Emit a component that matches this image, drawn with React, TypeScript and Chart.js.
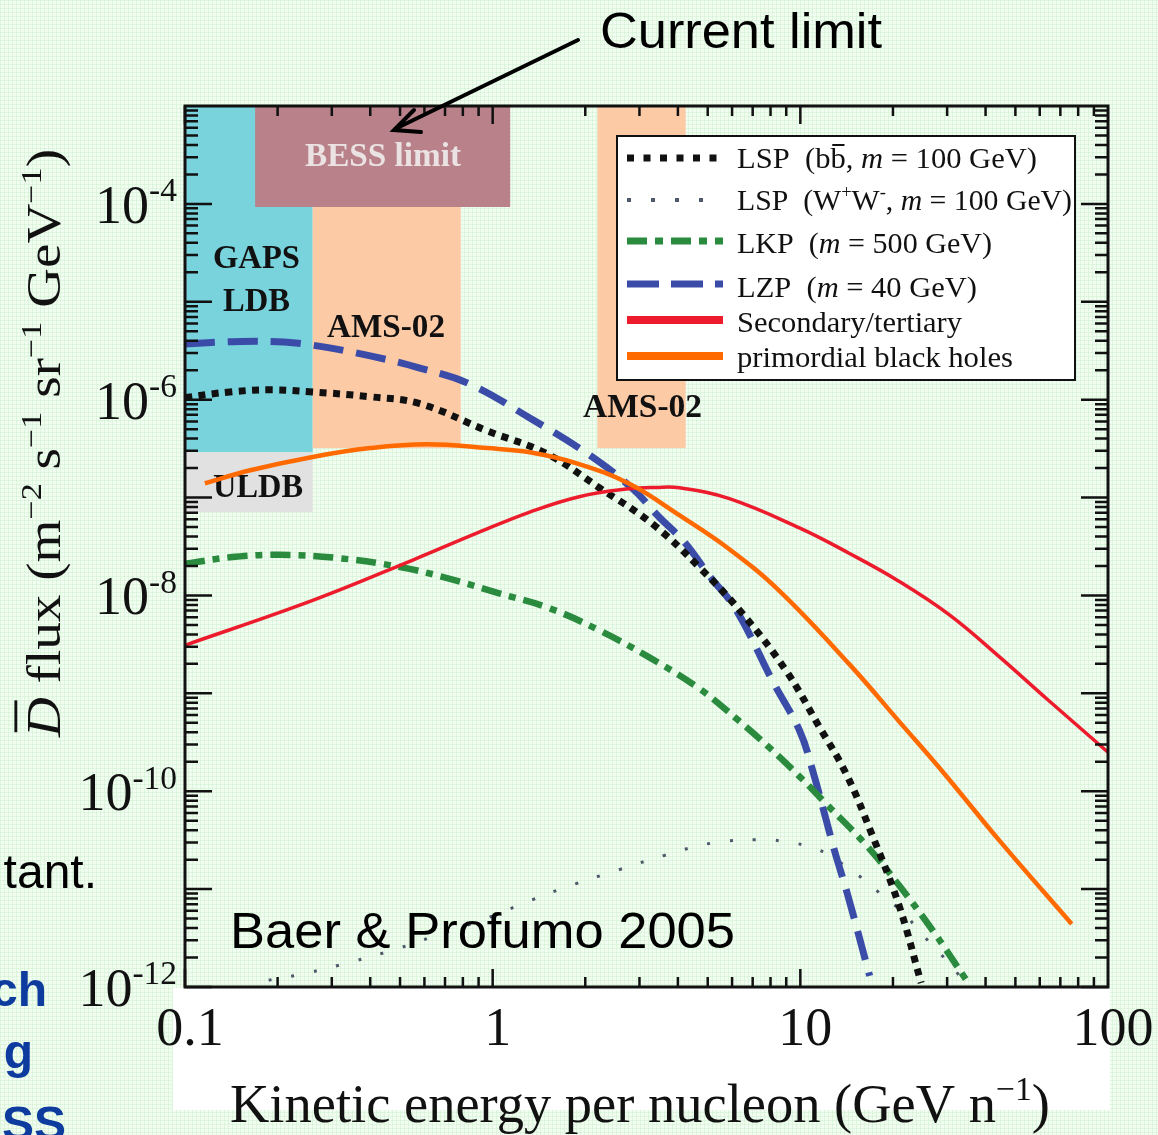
import React, { useEffect, useRef } from "react";
import { Chart, registerables } from "chart.js";

Chart.register(...registerables);

const W = 1158;
const H = 1135;
const SERIF = '"Liberation Serif", "Times New Roman", serif';
const SANS = '"Liberation Sans", Arial, sans-serif';

// ---------- series data (kinetic energy per nucleon in GeV, flux) ----------
const lspBbX = [0.1, 0.14, 0.19, 0.26, 0.4, 0.58, 0.96, 1.5, 2.22, 3.3, 4.69, 6.46, 8.97, 11.5, 14.1, 17.1, 20.9, 24.7];
const lspBbY = [1.05e-6, 1.2e-6, 1.26e-6, 1.2e-6, 1.07e-6, 9.1e-7, 4.8e-7, 2.8e-7, 1.26e-7, 5.4e-8, 1.95e-8, 6.6e-9, 1.72e-9, 4.6e-10, 1.5e-10, 3.6e-11, 6.9e-12, 1.1e-12];

const lspWwX = [0.16, 0.172, 0.247, 0.346, 0.488, 0.68, 0.95, 1.32, 1.84, 2.58, 3.6, 5.14, 7.3, 8.7, 10.3, 12.2, 14.2, 16.4, 18.7, 21.6, 24.2, 27.4, 30.9, 34.3];
const lspWwY = [9.5e-13, 1.1e-12, 1.38e-12, 1.8e-12, 2.45e-12, 3.5e-12, 5.0e-12, 7.6e-12, 1.12e-11, 1.58e-11, 2.2e-11, 2.95e-11, 3.2e-11, 3.1e-11, 2.8e-11, 2.3e-11, 1.66e-11, 1.2e-11, 8.3e-12, 5.8e-12, 3.8e-12, 2.5e-12, 1.66e-12, 1.1e-12];

const lkpX = [0.1, 0.14, 0.203, 0.318, 0.5, 0.726, 1.05, 1.53, 2.22, 3.23, 4.69, 6.29, 7.92, 9.93, 12.1, 16.4, 20.9, 26.9, 34.5];
const lkpY = [2.1e-8, 2.45e-8, 2.6e-8, 2.4e-8, 1.95e-8, 1.48e-8, 1.05e-8, 7.4e-9, 4.4e-9, 2.33e-9, 1.12e-9, 5.3e-10, 2.8e-10, 1.42e-10, 7.5e-11, 2.8e-11, 1.1e-11, 3.8e-12, 1.2e-12];

const lzpX = [0.1, 0.14, 0.2, 0.26, 0.4, 0.58, 0.84, 1.32, 2.07, 2.85, 3.48, 4.2, 5.07, 6.19, 8.11, 9.93, 10.9, 12.9, 14.2, 16.8];
const lzpY = [3.7e-6, 3.9e-6, 3.9e-6, 3.6e-6, 2.8e-6, 2.1e-6, 1.45e-6, 6.5e-7, 2.7e-7, 1.23e-7, 6.3e-8, 3.5e-8, 1.58e-8, 7.1e-9, 1.35e-9, 4.2e-10, 1.74e-10, 2.5e-11, 9.1e-12, 1.3e-12];

const secondaryX = [0.1, 0.26, 0.55, 0.9, 1.32, 1.91, 2.78, 3.4, 4.04, 5.85, 9.93, 14.4, 20.9, 30.6, 44.1, 64, 100];
const secondaryY = [3.1e-9, 8.9e-9, 2.3e-8, 4.4e-8, 7.1e-8, 1.02e-7, 1.23e-7, 1.27e-7, 1.26e-7, 9.8e-8, 4.9e-8, 2.7e-8, 1.4e-8, 6.3e-9, 2.4e-9, 8.5e-10, 2.5e-10];

const pbhX = [0.116, 0.163, 0.26, 0.4, 0.61, 0.96, 1.32, 1.91, 2.78, 4.04, 5.85, 8.53, 14.4, 20.9, 29.7, 44.1, 76.2];
const pbhY = [1.4e-7, 1.9e-7, 2.6e-7, 3.2e-7, 3.5e-7, 3.2e-7, 2.9e-7, 2.2e-7, 1.38e-7, 6.6e-8, 3.0e-8, 1.12e-8, 2.0e-9, 5.2e-10, 1.45e-10, 3.2e-11, 4.4e-12];

// ---------- axes ----------
const xMin = 0.1;
const xMax = 100;
const yMin = 1e-12;
const yMax = 1e-3;
const xTickValues = [0.1, 1, 10, 100];
const xTickLabels = ["0.1", "1", "10", "100"];
const yTickExponents = [-4, -6, -8, -10, -12];

// ---------- experiment sensitivity bands ----------
const bandNames = ["GAPS LDB", "AMS-02", "BESS limit", "AMS-02", "ULDB"];
const bandXMin = [0.1, 0.26, 0.169, 2.19, 0.1];
const bandXMax = [0.26, 0.787, 1.14, 4.24, 0.26];
const bandYMin = [2.9e-7, 3.2e-7, 9.3e-5, 3.2e-7, 7.1e-8];
const bandYMax = [1e-3, 9.3e-5, 1e-3, 1e-3, 2.9e-7];
const bandColors = ["#79d3dd", "#fdcaa6", "#b98189", "#fdcaa6", "#e1e1e1"];

type Seg = { t: string; it?: boolean; sup?: boolean; over?: number; bold?: boolean };

const legendSegs: Seg[][] = [
  [{ t: "LSP  (b" }, { t: "b", over: 0.8 }, { t: ", " }, { t: "m", it: true }, { t: " = 100 GeV)" }],
  [{ t: "LSP  (W" }, { t: "+", sup: true }, { t: "W" }, { t: "-", sup: true }, { t: ", " }, { t: "m", it: true }, { t: " = 100 GeV)" }],
  [{ t: "LKP  (" }, { t: "m", it: true }, { t: " = 500 GeV)" }],
  [{ t: "LZP  (" }, { t: "m", it: true }, { t: " = 40 GeV)" }],
  [{ t: "Secondary/tertiary" }],
  [{ t: "primordial black holes" }],
];

// style per legend row (same order as legendSegs)
const legendStyle = [
  { color: "#111111", width: 7, dash: [7, 9.5] },
  { color: "#4d5868", width: 4, dash: [4, 20] },
  { color: "#2a8a3e", width: 7, dash: [20, 8, 8, 8] },
  { color: "#3b4ca8", width: 7, dash: [32, 12] },
  { color: "#ec1c2c", width: 8, dash: [] as number[] },
  { color: "#ff6a00", width: 8, dash: [] as number[] },
];

function segFont(s: Seg, size: number, family: string) {
  const sz = s.sup ? size * 0.62 : size;
  return `${s.it ? "italic " : ""}${s.bold ? "bold " : ""}${sz}px ${family}`;
}

function richWidth(ctx: CanvasRenderingContext2D, segs: Seg[], size: number, family: string) {
  let w = 0;
  for (const s of segs) {
    ctx.font = segFont(s, size, family);
    w += ctx.measureText(s.t).width;
  }
  return w;
}

function drawRich(
  ctx: CanvasRenderingContext2D,
  segs: Seg[],
  x: number,
  y: number,
  size: number,
  family: string,
  align: "left" | "center" | "right",
  target?: number
) {
  const w = richWidth(ctx, segs, size, family);
  const sx = target ? target / w : 1;
  const tw = w * sx;
  const start = align === "left" ? x : align === "center" ? x - tw / 2 : x - tw;
  ctx.save();
  ctx.translate(start, y);
  ctx.scale(sx, 1);
  ctx.textAlign = "left";
  ctx.textBaseline = "alphabetic";
  let cx = 0;
  for (const s of segs) {
    ctx.font = segFont(s, size, family);
    const dy = s.sup ? -size * 0.4 : 0;
    ctx.fillText(s.t, cx, dy);
    const mw = ctx.measureText(s.t).width;
    if (s.over) {
      ctx.fillRect(cx + mw * 0.12, dy - size * s.over, mw * 0.8, Math.max(2, size * 0.06));
    }
    cx += mw;
  }
  ctx.restore();
}

function fitText(ctx: CanvasRenderingContext2D, text: string, x: number, y: number, font: string, target: number, color: string) {
  ctx.save();
  ctx.font = font;
  const w = ctx.measureText(text).width;
  ctx.translate(x, y);
  ctx.scale(target / w, 1);
  ctx.fillStyle = color;
  ctx.textAlign = "left";
  ctx.textBaseline = "alphabetic";
  ctx.fillText(text, 0, 0);
  ctx.restore();
}

const decorPlugin = {
  id: "decor",
  beforeDraw(chart: any) {
    const ctx: CanvasRenderingContext2D = chart.ctx;
    ctx.save();
    ctx.fillStyle = "#ffffff";
    ctx.fillRect(173, 988, 937, 122);
    ctx.restore();
  },
  beforeDatasetsDraw(chart: any) {
    const ctx: CanvasRenderingContext2D = chart.ctx;
    const a = chart.chartArea;
    const xs = chart.scales.x;
    const ys = chart.scales.y;
    ctx.save();
    ctx.beginPath();
    ctx.rect(a.left, a.top, a.right - a.left, a.bottom - a.top);
    ctx.clip();
    for (let i = 0; i < bandNames.length; i++) {
      const x0 = xs.getPixelForValue(bandXMin[i]);
      const x1 = xs.getPixelForValue(bandXMax[i]);
      const y0 = ys.getPixelForValue(bandYMax[i]);
      const y1 = ys.getPixelForValue(bandYMin[i]);
      ctx.fillStyle = bandColors[i];
      ctx.fillRect(x0, y0, x1 - x0, y1 - y0);
    }
    ctx.restore();

    // band labels
    const bf = `bold 33px ${SERIF}`;
    fitText(ctx, "BESS limit", 305, 166, bf, 156, "#ebe3e3");
    fitText(ctx, "GAPS", 213, 268, bf, 87, "#111");
    fitText(ctx, "LDB", 223, 311, bf, 67, "#111");
    fitText(ctx, "AMS-02", 327, 337, bf, 118, "#111");
    fitText(ctx, "ULDB", 213, 497, bf, 90, "#111");
    fitText(ctx, "AMS-02", 583, 417, bf, 119, "#111");
  },
  afterDatasetsDraw(chart: any) {
    const ctx: CanvasRenderingContext2D = chart.ctx;
    const a = chart.chartArea;
    const xs = chart.scales.x;
    const ys = chart.scales.y;

    // legend box
    ctx.save();
    ctx.fillStyle = "#ffffff";
    ctx.fillRect(617, 136, 458, 244);
    ctx.strokeStyle = "#111";
    ctx.lineWidth = 2;
    ctx.strokeRect(617, 136, 458, 244);
    const sampleY = [158, 200, 241, 284, 320, 356];
    const baseY = [168, 210, 253, 297, 332, 367];
    const fitW = [300, 335, 255, 240, 225, 276];
    for (let i = 0; i < legendSegs.length; i++) {
      const st = legendStyle[i];
      ctx.beginPath();
      ctx.strokeStyle = st.color;
      ctx.lineWidth = st.width;
      ctx.lineCap = "butt";
      ctx.setLineDash(st.dash);
      ctx.moveTo(627, sampleY[i]);
      ctx.lineTo(723, sampleY[i]);
      ctx.stroke();
      ctx.setLineDash([]);
      ctx.fillStyle = "#111";
      drawRich(ctx, legendSegs[i], 737, baseY[i], 30, SERIF, "left", fitW[i]);
    }
    ctx.restore();

    // ticks (inward, all four sides)
    ctx.save();
    ctx.strokeStyle = "#111";
    ctx.lineWidth = 2.5;
    ctx.setLineDash([]);
    ctx.beginPath();
    for (let d = -1; d <= 1; d++) {
      for (let k = 1; k <= 9; k++) {
        const v = k * Math.pow(10, d);
        const p = xs.getPixelForValue(v);
        const len = k === 1 ? 18 : 10;
        ctx.moveTo(p, a.bottom);
        ctx.lineTo(p, a.bottom - len);
        ctx.moveTo(p, a.top);
        ctx.lineTo(p, a.top + len);
      }
    }
    for (let d = -12; d <= -4; d++) {
      for (let k = 1; k <= 9; k++) {
        const v = k * Math.pow(10, d);
        const p = ys.getPixelForValue(v);
        const len = k === 1 ? 27 : 13;
        ctx.moveTo(a.left, p);
        ctx.lineTo(a.left + len, p);
        ctx.moveTo(a.right, p);
        ctx.lineTo(a.right - len, p);
      }
    }
    ctx.stroke();
    ctx.lineWidth = 3;
    ctx.strokeRect(a.left, a.top, a.right - a.left, a.bottom - a.top);
    ctx.restore();

    // tick labels
    ctx.save();
    ctx.fillStyle = "#111";
    ctx.font = `54px ${SERIF}`;
    ctx.textAlign = "center";
    ctx.textBaseline = "alphabetic";
    for (let i = 0; i < xTickValues.length; i++) {
      const p = xs.getPixelForValue(xTickValues[i]);
      ctx.fillText(xTickLabels[i], p + 5, 1045);
    }
    for (const e of yTickExponents) {
      const p = ys.getPixelForValue(Math.pow(10, e));
      drawRich(ctx, [{ t: "10" }, { t: String(e), sup: true }], 177, p + 19, 54, SERIF, "right");
    }
    ctx.restore();

    // axis titles
    ctx.save();
    ctx.fillStyle = "#111";
    drawRich(
      ctx,
      [{ t: "Kinetic energy per nucleon (GeV n" }, { t: "\u22121", sup: true }, { t: ")" }],
      640,
      1122,
      54,
      SERIF,
      "center",
      820
    );
    ctx.translate(60, 443);
    ctx.rotate(-Math.PI / 2);
    drawRich(
      ctx,
      [
        { t: "D", it: true, over: 0.95 },
        { t: " flux (m" },
        { t: "\u22122", sup: true },
        { t: " s" },
        { t: "\u22121", sup: true },
        { t: " sr" },
        { t: "\u22121", sup: true },
        { t: " GeV" },
        { t: "\u22121", sup: true },
        { t: ")" },
      ],
      0,
      0,
      48,
      SERIF,
      "center",
      588
    );
    ctx.restore();

    // annotations
    ctx.save();
    fitText(ctx, "Current limit", 600, 48, `50px ${SANS}`, 282, "#000");
    fitText(ctx, "Baer & Profumo 2005", 230, 948, `50px ${SANS}`, 505, "#000");
    ctx.strokeStyle = "#000";
    ctx.lineWidth = 4;
    ctx.lineCap = "round";
    ctx.beginPath();
    ctx.moveTo(578, 40);
    ctx.lineTo(397, 128);
    ctx.moveTo(414, 110);
    ctx.lineTo(394, 130);
    ctx.lineTo(421, 132);
    ctx.stroke();
    // slide text cut off at the left edge
    ctx.textAlign = "right";
    ctx.textBaseline = "alphabetic";
    ctx.fillStyle = "#000";
    ctx.font = `48px ${SANS}`;
    ctx.fillText("tant.", 97, 888);
    ctx.fillStyle = "#0d3c9e";
    ctx.font = `bold 48px ${SANS}`;
    ctx.fillText("ch", 47, 1006);
    ctx.fillText("g", 33, 1068);
    ctx.fillText("SS", 66, 1140);
    ctx.restore();
  },
};

function pts(xs: number[], ys: number[]) {
  return xs.map((x, i) => ({ x, y: ys[i] }));
}

export default function App() {
  const ref = useRef<HTMLCanvasElement | null>(null);

  useEffect(() => {
    if (!ref.current) return;
    const base = {
      pointRadius: 0,
      fill: false,
      tension: 0.4,
      borderCapStyle: "butt" as const,
    };
    const chart = new Chart(ref.current, {
      type: "line",
      data: {
        datasets: [
          { ...base, label: "primordial black holes", data: pts(pbhX, pbhY), borderColor: "#ff6a00", borderWidth: 4.5 },
          { ...base, label: "Secondary/tertiary", data: pts(secondaryX, secondaryY), borderColor: "#ec1c2c", borderWidth: 3.5 },
          { ...base, label: "LSP (bb, m = 100 GeV)", data: pts(lspBbX, lspBbY), borderColor: "#111111", borderWidth: 7, borderDash: [7, 6.5] },
          { ...base, label: "LKP (m = 500 GeV)", data: pts(lkpX, lkpY), borderColor: "#2a8a3e", borderWidth: 6.5, borderDash: [20, 8, 7, 8] },
          { ...base, label: "LZP (m = 40 GeV)", data: pts(lzpX, lzpY), borderColor: "#3b4ca8", borderWidth: 7, borderDash: [30, 13] },
          { ...base, label: "LSP (W+W-, m = 100 GeV)", data: pts(lspWwX, lspWwY), borderColor: "#4d5868", borderWidth: 3, borderDash: [3, 20] },
        ],
      },
      options: {
        animation: false,
        responsive: false,
        maintainAspectRatio: false,
        layout: { padding: { left: 185, right: 50, top: 106, bottom: 148 } },
        scales: {
          x: { type: "logarithmic", min: xMin, max: xMax, display: false },
          y: { type: "logarithmic", min: yMin, max: yMax, display: false },
        },
        plugins: { legend: { display: false }, tooltip: { enabled: false } },
        elements: { point: { radius: 0 } },
      },
      plugins: [decorPlugin],
    });
    return () => chart.destroy();
  }, []);

  return (
    <div
      style={{
        position: "absolute",
        left: 0,
        top: 0,
        width: W,
        height: H,
        overflow: "hidden",
        backgroundColor: "#f1fdf1",
        backgroundImage:
          "linear-gradient(rgba(200,238,200,0.45) 1px, transparent 1px), linear-gradient(90deg, rgba(200,238,200,0.45) 1px, transparent 1px)",
        backgroundSize: "4px 4px",
      }}
    >
      <canvas ref={ref} width={W} height={H} style={{ display: "block", width: W, height: H }} />
    </div>
  );
}
